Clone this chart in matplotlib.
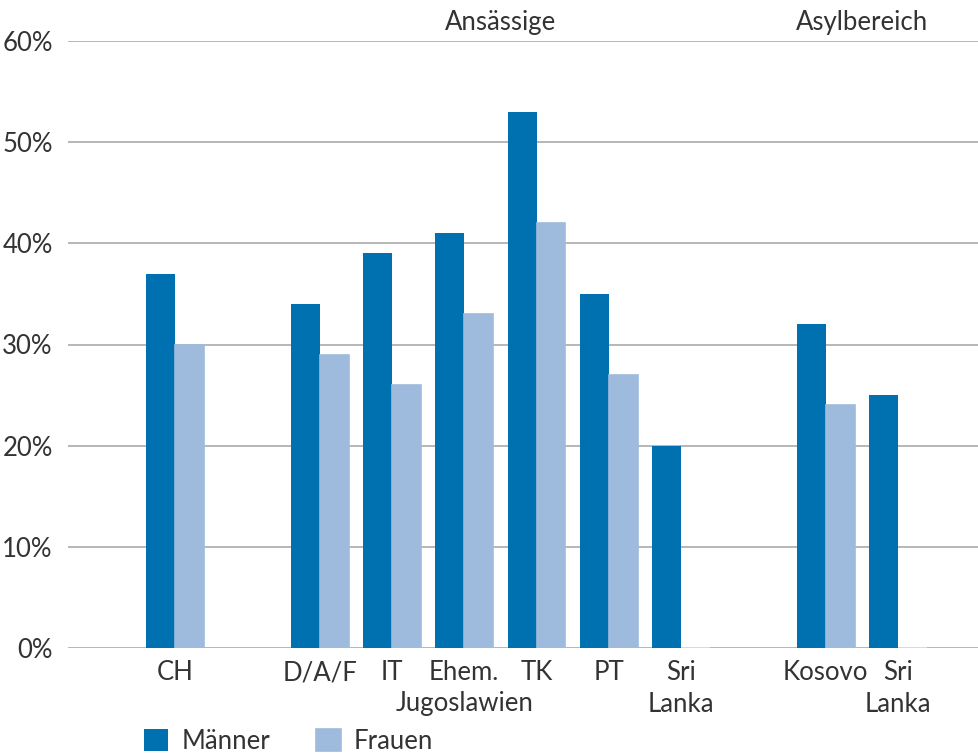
import numpy as np
import matplotlib.pyplot as plt

plt.rcParams['font.family'] = ['Lato', 'DejaVu Sans']

laender = ["CH", "D/A/F", "IT", "Ehem.\nJugoslawien", "TK", "PT", "Sri\nLanka", "Kosovo", "Sri\nLanka"]
pos = [0, 2, 3, 4, 5, 6, 7, 9, 10]
maenner = [37, 34, 39, 41, 53, 35, 20, 32, 25]
frauen = [30, 29, 26, 33, 42, 27, 0, 24, 0]
gruppen = ["Ansässige", "Asylbereich"]
gruppen_mitte = [4.5, 9.5]

blau = "#0071b0"
hellblau = "#9ebbdd"
grau = "#333333"
fs = 18.5

fig = plt.figure(figsize=(9.79, 7.56), dpi=100)
ax = fig.add_axes([68 / 979, 108 / 756, 1 - 68 / 979, 607 / 756])

x = np.array(pos)
b = 0.4
ax.bar(x - b / 2, maenner, width=b, color=blau, label="Männer", zorder=3)
ax.bar(x + b / 2, frauen, width=b, color=hellblau, label="Frauen", zorder=3,
       edgecolor=[hellblau if v > 0 else "#d5e3f2" for v in frauen], linewidth=1.2)

ax.set_xlim(-1.48, 11.12)
ax.set_ylim(0, 60)
ax.set_yticks(range(0, 61, 10))
ax.set_yticklabels([f"{v}%" for v in range(0, 61, 10)])
ax.set_xticks(pos)
ax.set_xticklabels(laender, linespacing=1.3)
ax.yaxis.grid(True, color="#aaaaaa", linewidth=1.2, zorder=0)
ax.tick_params(length=0, labelsize=fs, colors=grau, pad=11)
ax.tick_params(axis="x", pad=9)
for s in ax.spines.values():
    s.set_visible(False)

for g, m in zip(gruppen, gruppen_mitte):
    ax.text(m, 1.01, g, transform=ax.get_xaxis_transform(), ha="center", va="bottom",
            fontsize=fs, color=grau)

fig.legend(loc="upper left", bbox_to_anchor=(144 / 979, 1 - 729 / 756), ncol=2, frameon=False,
           fontsize=fs, handlelength=0.95, handleheight=0.95, handletextpad=0.5,
           columnspacing=1.8, borderpad=0, borderaxespad=0, labelcolor=grau)

fig.savefig("out.png", dpi=100)
